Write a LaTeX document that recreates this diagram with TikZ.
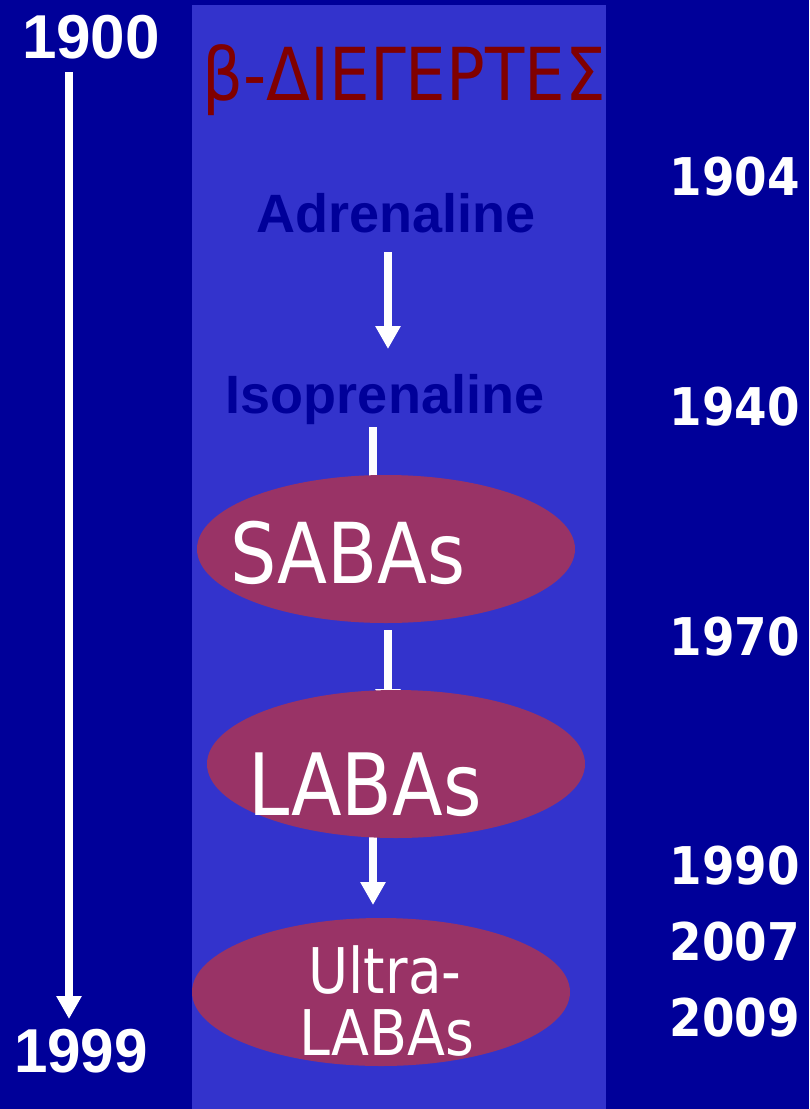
\documentclass[tikz,border=0pt]{standalone}
\usepackage{fontspec}
\usetikzlibrary{arrows.meta,shapes.geometric}
\newfontfamily\arialfont{Liberation Sans}
\newfontfamily\dvfont{DejaVu Sans}
\definecolor{bgblue}{HTML}{000099}
\definecolor{panelblue}{HTML}{3333CC}
\definecolor{titlered}{HTML}{800000}
\definecolor{ellcol}{HTML}{993366}
\tikzset{
  arr/.style={draw=white,line width=8pt,-{Triangle[width=24pt,length=23pt]}},
  ell/.style={ellipse,fill=ellcol,draw=none,minimum width=378pt,minimum height=148pt,inner sep=0pt},
  leftyear/.style={text=white,anchor=base,inner sep=0pt,font=\arialfont\bfseries\fontsize{62}{62}\selectfont},
  rightyear/.style={text=white,anchor=base east,inner sep=0pt,font=\dvfont\bfseries\fontsize{52}{52}\selectfont},
  drug/.style={text=bgblue,anchor=base,inner sep=0pt,font=\arialfont\bfseries\fontsize{54}{54}\selectfont},
  elltext/.style={text=white,anchor=base,inner sep=0pt},
}
\begin{document}
\begin{tikzpicture}[x=1pt,y=-1pt]
\useasboundingbox (0,0) rectangle (809,1109);
\fill[bgblue] (0,0) rectangle (809,1109);
\fill[panelblue] (192,5) rectangle (606,1109);
% title
\node[anchor=base,inner sep=0pt,text=titlered] (title) at (404,100)
  {\dvfont\fontsize{73}{73}\selectfont\scalebox{0.88}[1]{β-ΔΙΕΓΕΡΤΕΣ}};
% left timeline
\node[leftyear] (y1900) at (91,58) {1900};
\node[leftyear] (y1999) at (81,1072) {\scalebox{0.97}[1]{1999}};
\coordinate (tl1) at (69,72);
\coordinate (tl2) at (69,1019);
\draw[arr] (tl1) -- (tl2);
% right years
\node[rightyear] (r1904) at (800,195) {\scalebox{0.9}[1]{1904}};
\node[rightyear] (r1940) at (800,425) {\scalebox{0.9}[1]{1940}};
\node[rightyear] (r1970) at (800,655) {\scalebox{0.9}[1]{1970}};
\node[rightyear] (r1990) at (800,884) {\scalebox{0.9}[1]{1990}};
\node[rightyear] (r2007) at (800,960) {\scalebox{0.9}[1]{2007}};
\node[rightyear] (r2009) at (800,1036) {\scalebox{0.9}[1]{2009}};
% drugs
\node[drug] (adr) at (396,232) {Adrenaline};
\node[drug] (iso) at (385,413) {Isoprenaline};
% arrows (drawn before ellipses, which cover their ends)
\coordinate (a1s) at (388,252);
\coordinate (a1e) at (388,349);
\draw[arr] (a1s) -- (a1e);
\coordinate (a2s) at (373,427);
\coordinate (a2e) at (373,520);
\draw[draw=white,line width=8pt] (a2s) -- (a2e);
\coordinate (a3s) at (388,630);
\coordinate (a3e) at (388,712);
\draw[arr] (a3s) -- (a3e);
\coordinate (a4s) at (373,830);
\coordinate (a4e) at (373,905);
\draw[arr] (a4s) -- (a4e);
% ellipses
\node[ell] (saba) at (386,549) {};
\node[ell] (laba) at (396,764) {};
\node[ell] (ultra) at (381,992) {};
\node[elltext] (sabat) at (348,583) {\dvfont\fontsize{84}{84}\selectfont\scalebox{0.87}[1]{SABAs}};
\node[elltext] (labat) at (365,815) {\dvfont\fontsize{86}{86}\selectfont\scalebox{0.86}[1]{LABAs}};
\node[elltext] (ultrat1) at (385,993) {\dvfont\fontsize{63}{63}\selectfont\scalebox{0.87}[1]{Ultra-}};
\node[elltext] (ultrat2) at (387,1055) {\dvfont\fontsize{63}{63}\selectfont\scalebox{0.88}[1]{LABAs}};
\end{tikzpicture}
\end{document}
